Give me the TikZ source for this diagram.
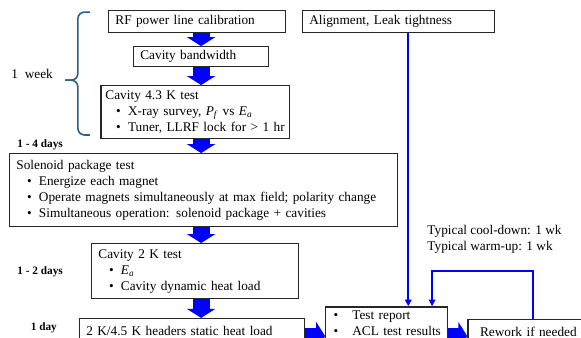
\documentclass[tikz,border=0pt]{standalone}
\usepackage{fontspec}
\setmainfont{Liberation Serif}
\usetikzlibrary{arrows.meta}
\definecolor{bracecol}{RGB}{45,95,135}
\newcommand{\bul}{\hspace*{8pt}\makebox[9pt][l]{\textbullet}}
\newcommand{\tbul}{\hspace*{1pt}\makebox[14pt][l]{\textbullet}}

\begin{document}
\begin{tikzpicture}[
  box/.style={draw=black!85, line width=1pt, anchor=north west, align=left, inner xsep=5pt, inner ysep=2pt},
  bigflow/.style={draw=blue, line width=12.75pt, -{Triangle[width=21pt,length=6.75pt]}},
  thinflow/.style={draw=blue, line width=1.5pt, -{Triangle[width=5pt,length=5pt]}},
  lbl/.style={font=\fontsize{8.5}{10}\selectfont\bfseries}
]
\clip (0,0) rectangle (15.37,-8.94);

\node[box, text width=4.33cm, minimum height=0.58cm] (rf) at (2.86,-0.26) {RF power line calibration};
\node[box, text width=4.73cm, minimum height=0.58cm] (aln) at (7.99,-0.26) {Alignment, Leak tightness};
\node[box, text width=3.22cm, minimum height=0.53cm] (bw) at (3.52,-1.22) {Cavity bandwidth};
\node[box, text width=4.75cm, inner xsep=3.5pt, minimum height=1.40cm] (c43) at (2.65,-2.25) {Cavity 4.3 K test\\
  \bul X-ray survey, \textit{P}\textsubscript{\textit{f}} vs \textit{E}\textsubscript{\textit{a}}\\
  \bul Tuner, LLRF lock for > 1 hr};
\node[box, text width=9.91cm, minimum height=1.93cm] (sol) at (0.24,-4.05) {Solenoid package test\\
  \bul Energize each magnet\\
  \bul Operate magnets simultaneously at max field; polarity change\\
  \bul Simultaneous operation: solenoid package + cavities};
\node[box, text width=5.12cm, minimum height=1.455cm] (c2k) at (2.41,-6.43) {Cavity 2 K test\\
  \bul \textit{E}\textsubscript{\textit{a}}\\
  \bul Cavity dynamic heat load};
\node[box, text width=5.60cm, minimum height=0.64cm] (hdr) at (2.09,-8.41) {2 K/4.5 K headers static heat load};
\node[box, text width=2.875cm, inner ysep=3pt] (tst) at (8.60,-8.10) {\tbul Test report\\
  \tbul ACL test results};
\node[box, text width=2.85cm, minimum height=0.64cm, align=center] (rew) at (12.36,-8.44) {Rework if needed};

\node[inner sep=0, align=left, anchor=west] (cool) at (11.30,-6.34) {Typical cool-down: 1 wk\\Typical warm-up: 1 wk};

% durations
\node (wk) at (0.85,-1.96) {1\ \ week};
\node[lbl] (d14) at (1.06,-3.84) {1 - 4 days};
\node[lbl] (d12) at (1.06,-7.20) {1 - 2 days};
\node[lbl] (d1) at (1.16,-8.68) {1 day};
\draw[bracecol, line width=1.2pt, rounded corners=5pt] (2.38,-0.32) -- (2.06,-0.32) -- (2.06,-2.12) -- (1.72,-2.12);
\draw[bracecol, line width=1.2pt, rounded corners=5pt] (1.72,-2.12) -- (2.06,-2.12) -- (2.06,-3.57) -- (2.38,-3.57);

\coordinate (spine) at (5.32,0);
\coordinate (row) at (0,-8.89);
\coordinate (drop) at (10.80,0);
\coordinate (loop) at (11.43,-7.17);
\coordinate (back) at (14.10,-7.17);

\draw[bigflow] (rf.south -| spine) -- (bw.north -| spine);
\draw[bigflow] (bw.south -| spine) -- (c43.north -| spine);
\draw[bigflow] (c43.south -| spine) -- (sol.north -| spine);
\draw[bigflow] (sol.south -| spine) -- (c2k.north -| spine);
\draw[bigflow] (c2k.south -| spine) -- (hdr.north -| spine);
\draw[bigflow] (hdr.east |- row) -- (tst.west |- row);
\draw[bigflow] (tst.east |- row) -- (rew.west |- row);

\draw[thinflow] (aln.south -| drop) -- (tst.north -| drop);
\draw[thinflow] (rew.north -| back) -- (back) -- (loop) -- (tst.north -| loop);
\end{tikzpicture}
\end{document}
